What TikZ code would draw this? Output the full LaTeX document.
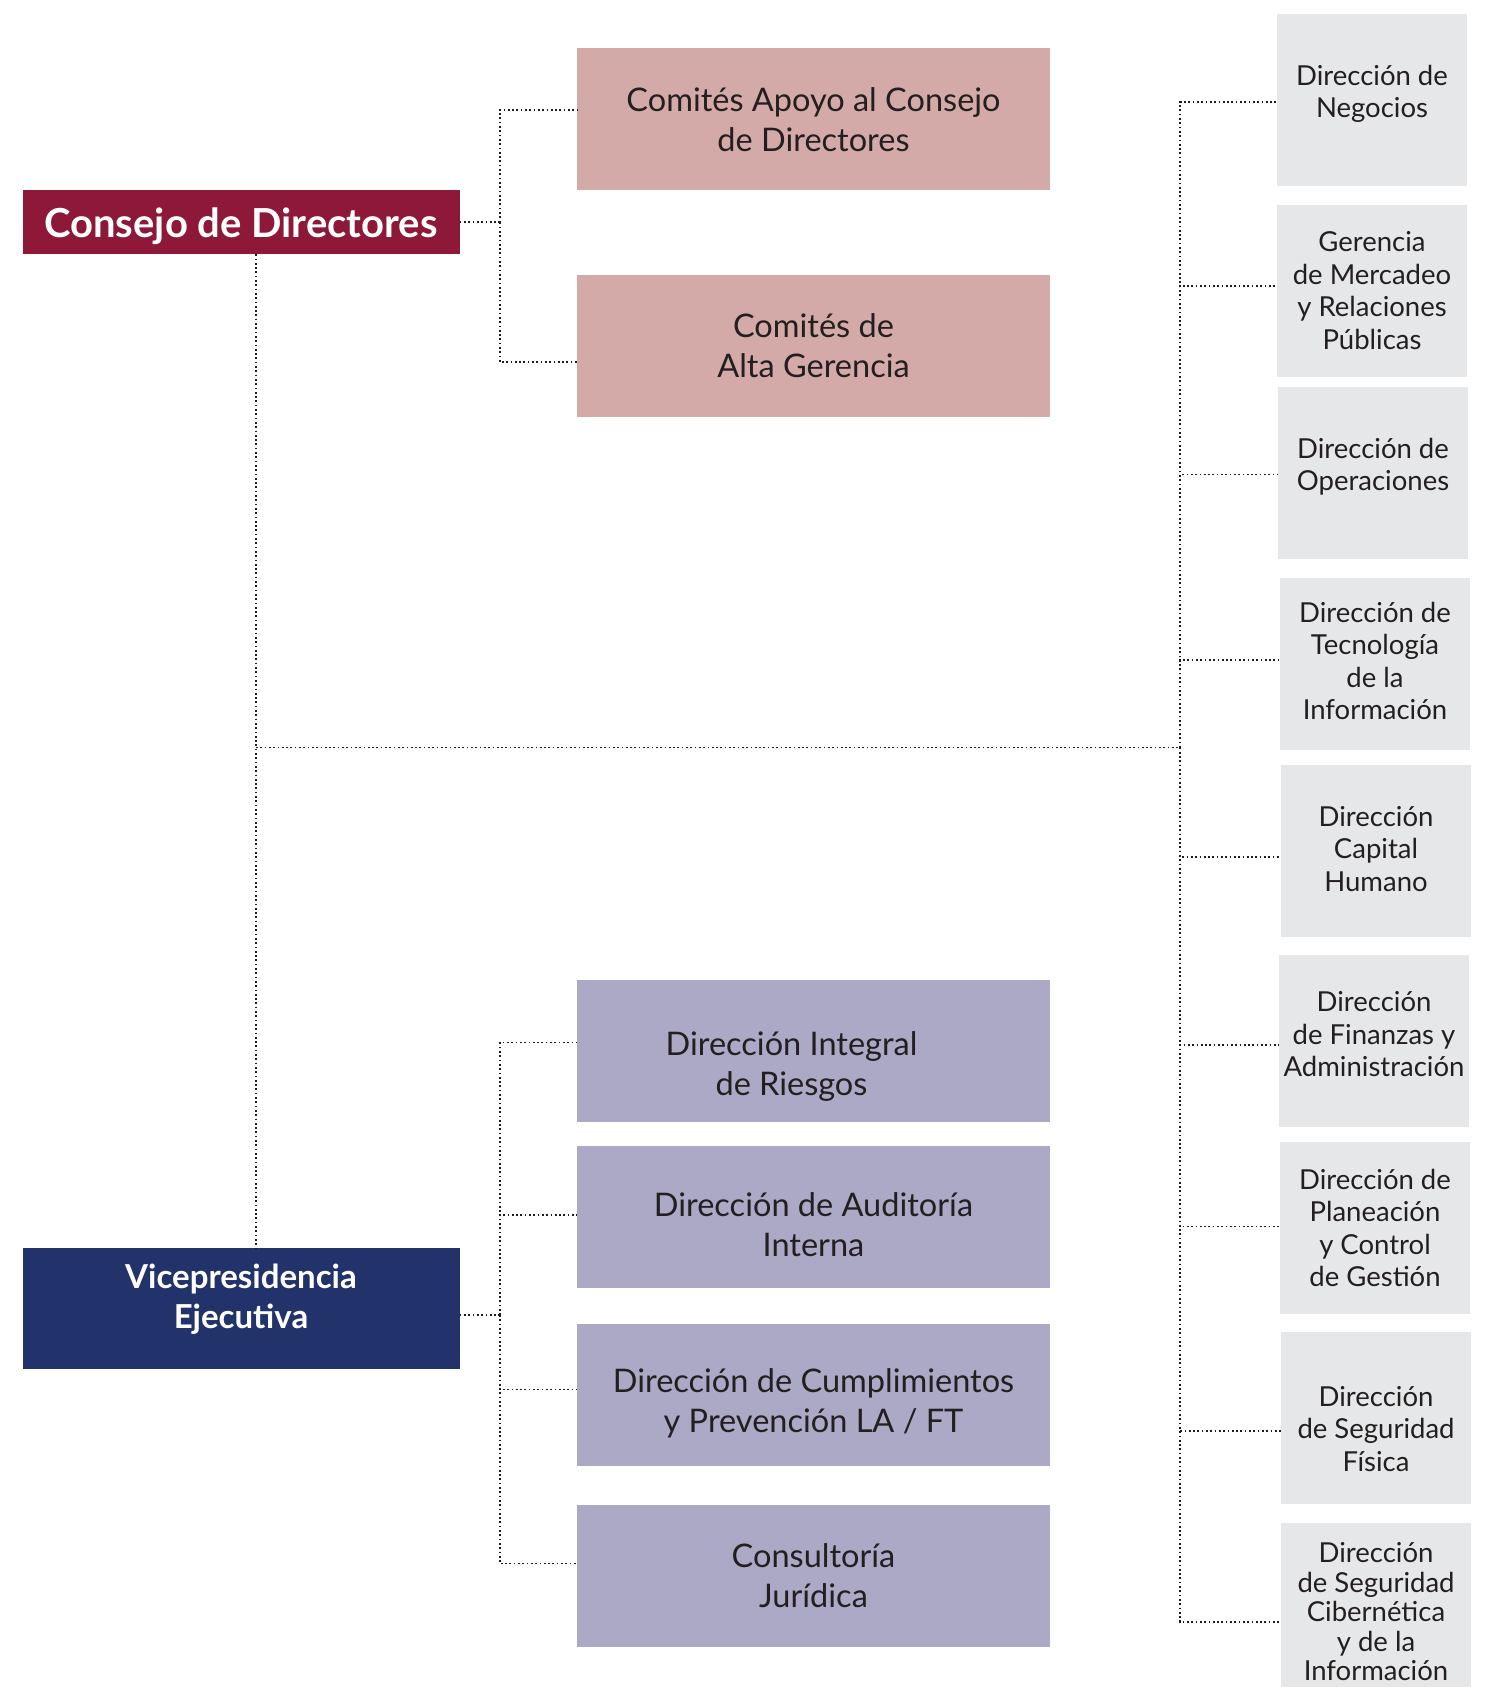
\documentclass[tikz,border=0pt]{standalone}
\usepackage{fontspec}
\setmainfont{Lato}
\usepackage{tikz}
\definecolor{ink}{HTML}{231F20}
\definecolor{maroon}{HTML}{8D1838}
\definecolor{navy}{HTML}{22336C}
\definecolor{rose}{HTML}{D4AAA8}
\definecolor{lilac}{HTML}{ABA9C5}
\definecolor{pale}{HTML}{E6E7E8}
\definecolor{linkgray}{HTML}{1C1C1C}
% struts that move the text inside a box
\newcommand\sinktext[1]{\rule{0pt}{#1}}
\newcommand\lifttext[1]{\rule[-#1]{0pt}{#1}}

\begin{document}
\begin{tikzpicture}
[x=1pt,y=-1pt,%
  every node/.style={shape=rectangle,inner sep=0pt,align=center,text=ink},%
  link/.style={line width=1.7pt,dash pattern=on 1.7pt off 2.6pt,color=linkgray},%
  head/.style={text=white,minimum width=437pt,font=\fontsize{33}{40}\selectfont\bfseries},%
  comite/.style={fill=rose,minimum width=473pt,minimum height=142pt,font=\fontsize{32.5}{40}\selectfont},%
  direc/.style={fill=lilac,minimum width=473pt,minimum height=142pt,font=\fontsize{32.5}{40}\selectfont},%
  area/.style={fill=pale,minimum width=190pt,minimum height=171.5pt,font=\fontsize{27.5}{32.5}\selectfont}]
\useasboundingbox (0,0) rectangle (1490,1687);
%% cabeza
\node[head,fill=maroon,minimum height=64pt,font=\fontsize{40}{40}\selectfont\bfseries]
  (consejo) at (241,222) {\sinktext{38.6pt}Consejo de Directores};
\node[head,fill=navy,minimum height=121pt] (vice) at (241,1308.5)
  {Vicepresidencia\\Ejecutiva\lifttext{23.8pt}};
%% comites
\node[comite] (apoyo) at (813.5,119.4) {Comités Apoyo al Consejo\\de Directores};
\node[comite] (alta) at (813.5,346) {Comités de\\Alta Gerencia};
%% direcciones
\node[direc] (riesgos) at (813.5,1051)
  {\sinktext{55.7pt}Dirección Integral\rule{44pt}{0pt}\\de Riesgos\rule{44pt}{0pt}};
\node[direc] (auditoria) at (813.5,1217) {\sinktext{38.7pt}Dirección de Auditoría\\Interna};
\node[direc] (cumplimientos) at (813.5,1395)
  {\sinktext{40.7pt}Dirección de Cumplimientos\\y Prevención LA / FT};
\node[direc] (consultoria) at (813.5,1576) {Consultoría\\Jurídica};
%% areas
\node[area] (negocios) at (1372,100) {Dirección de\\Negocios\lifttext{17.5pt}};
\node[area] (mercadeo) at (1372,290.8) {Gerencia\\de Mercadeo\\y Relaciones\\Públicas};
\node[area] (operaciones) at (1373,472.9) {Dirección de\\Operaciones\lifttext{17.5pt}};
\node[area] (tecnologia) at (1375,663.9) {Dirección de\\Tecnología\\de la\\Información\lifttext{6pt}};
\node[area] (capital) at (1376,850.8) {Dirección\\Capital\\Humano\lifttext{4pt}};
\node[area] (finanzas) at (1374,1040.9) {Dirección\\de Finanzas y\\Administración\lifttext{13pt}};
\node[area] (planeacion) at (1375,1227.9) {Dirección de\\Planeación\\y Control\\de Gestión};
\node[area] (fisica) at (1376,1417.8) {\sinktext{41.7pt}Dirección\\de Seguridad\\Física};
\node[area,font=\fontsize{27.5}{29.4}\selectfont] (cibernetica) at (1376,1608.8)
  {\sinktext{26pt}Dirección\\de Seguridad\\Cibernética\\y de la\\Información};
%% uniones
\coordinate (tjoin) at (500,222.3);
\coordinate (bjoin) at (500,1315);
\coordinate (spine) at (256,747.5);
\coordinate (rbus) at (1180,747.5);
%%
\draw[link] (consejo.east |- tjoin) -- (tjoin);
\foreach \child/\dy in {apoyo/9.7, alta/-16.3}
  \draw[link] (tjoin) |- ([yshift=\dy pt]\child.west);
\draw[link] (vice.east |- bjoin) -- (bjoin);
\foreach \child/\dy in {riesgos/8.5, auditoria/2, cumplimientos/5.5, consultoria/12.4}
  \draw[link] (bjoin) |- ([yshift=\dy pt]\child.west);
\draw[link] (consejo.south -| spine) -- (vice.north -| spine);
\draw[link] (spine) -- (rbus);
\foreach \child/\dy in {negocios/-2.3, mercadeo/4.9, operaciones/-1.7,
  tecnologia/3.6, capital/-6.2, finanzas/-4, planeacion/1.4,
  fisica/-13.2, cibernetica/-13.2}
  \draw[link] (rbus) |- ([yshift=\dy pt]\child.west);
\end{tikzpicture}
\end{document}
